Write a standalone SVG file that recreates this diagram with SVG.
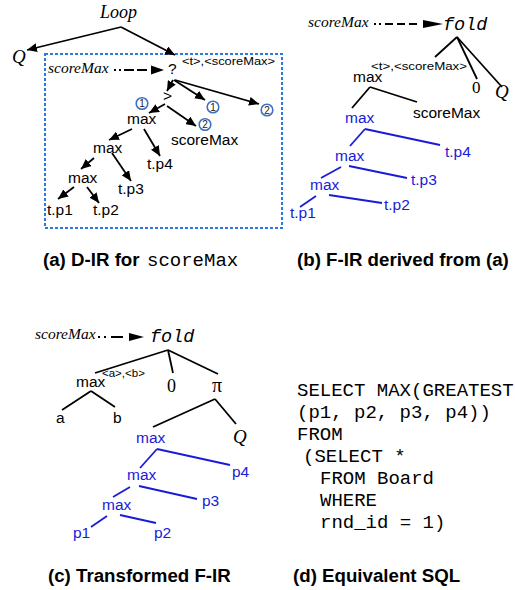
<svg xmlns="http://www.w3.org/2000/svg" width="515" height="590" viewBox="0 0 515 590">
  <style>
    .sans { font-family: "Liberation Sans", Arial, sans-serif; font-size: 15.5px; fill: #000; }
    .blue { fill: #1a1ad8; }
    .it { font-family: "Liberation Serif", "Times New Roman", serif; font-style: italic; fill: #000; }
    .serif { font-family: "Liberation Serif", "Times New Roman", serif; fill: #000; }
    .mono { font-family: "Liberation Mono", "Courier New", monospace; fill: #000; }
    .fold { font-family: "Liberation Mono", "Courier New", monospace; font-style: italic; font-size: 18.5px; fill: #000; }
    .sup { font-family: "Liberation Sans", Arial, sans-serif; font-size: 11.5px; fill: #000; }
    .cap { font-family: "Liberation Sans", Arial, sans-serif; font-weight: bold; font-size: 18.7px; fill: #000; }
    .sql { font-family: "Liberation Mono", "Courier New", monospace; font-size: 19px; fill: #000; }
    .arr { stroke: #000; stroke-width: 1.8; fill: none; marker-end: url(#head); }
    .edge { stroke: #000; stroke-width: 1.8; fill: none; }
    .bedge { stroke: #1a1ad8; stroke-width: 1.8; fill: none; }
    .dot { stroke: #000; stroke-width: 1.8; fill: none; }
    .num { fill: #fff; stroke: #3d6fc2; stroke-width: 1.6; }
    .numt { font-family: "Liberation Sans", Arial, sans-serif; font-size: 10px; fill: #222; text-anchor: middle; }
  </style>
  <defs>
    <marker id="head" markerUnits="userSpaceOnUse" markerWidth="11" markerHeight="9" refX="10" refY="4.5" orient="auto">
      <path d="M0,0 L10,4.5 L0,9 z" fill="#000"/>
    </marker>
  </defs>

  <!-- ===== (a) D-IR ===== -->
  <g id="a-loop"><text class="it" x="100" y="18" font-size="18">Loop</text></g>
  <g id="a-q"><text class="it" x="12" y="63" font-size="19">Q</text></g>
  <rect id="a-box" x="45" y="54" width="237" height="174" fill="none" stroke="#2a78e0" stroke-width="2" stroke-dasharray="3 2"/>
  <g id="a-scoremax-var"><text class="it" x="48" y="73" font-size="15.5">scoreMax</text></g>
  <g id="a-cond">
    <text class="sans" x="168" y="74" font-size="16.5">?</text>
    <text class="sup" x="182" y="65" textLength="93" lengthAdjust="spacingAndGlyphs">&lt;t&gt;,&lt;scoreMax&gt;</text>
  </g>
  <g id="a-gt"><text class="sans" x="163" y="101">&gt;</text></g>
  <g id="a-max1"><text class="sans" x="127" y="124">max</text></g>
  <g id="a-scoremax"><text class="sans" x="171" y="145">scoreMax</text></g>
  <g id="a-max2"><text class="sans" x="93" y="153">max</text></g>
  <g id="a-tp4"><text class="sans" x="147" y="169">t.p4</text></g>
  <g id="a-max3"><text class="sans" x="68" y="183">max</text></g>
  <g id="a-tp3"><text class="sans" x="118" y="194">t.p3</text></g>
  <g id="a-tp1"><text class="sans" x="47" y="215">t.p1</text></g>
  <g id="a-tp2"><text class="sans" x="93" y="215">t.p2</text></g>
  <g id="a-labels">
    <circle class="num" cx="142" cy="103.5" r="5.8"/><text class="numt" x="142" y="107">1</text>
    <circle class="num" cx="213" cy="107" r="5.8"/><text class="numt" x="213" y="110.5">1</text>
    <circle class="num" cx="267" cy="110" r="5.8"/><text class="numt" x="267" y="113.5">2</text>
    <circle class="num" cx="205" cy="124.5" r="5.8"/><text class="numt" x="205" y="128">2</text>
  </g>
  <g id="a-connectors">
    <line class="arr" x1="121" y1="27" x2="27" y2="50"/>
    <line class="arr" x1="121" y1="27" x2="175" y2="55"/>
    <line class="dot" x1="114" y1="70" x2="152" y2="70" stroke-dasharray="2 3 2 3 10 3 10 40"/>
    <path d="M151,65.5 L164,70 L151,74.5 z" fill="#000"/>
    <line class="arr" x1="173" y1="80" x2="167" y2="91"/>
    <line class="arr" x1="174" y1="80" x2="205" y2="100"/>
    <line class="arr" x1="175" y1="80" x2="259" y2="104"/>
    <line class="arr" x1="165" y1="104" x2="149" y2="113"/>
    <line class="arr" x1="167" y1="106" x2="196" y2="126"/>
    <line class="arr" x1="132" y1="129" x2="109" y2="140"/>
    <line class="arr" x1="144" y1="129" x2="160" y2="156"/>
    <line class="arr" x1="94" y1="158" x2="81" y2="169"/>
    <line class="arr" x1="112" y1="153" x2="131" y2="181"/>
    <line class="arr" x1="74" y1="187" x2="58" y2="199"/>
    <line class="arr" x1="87" y1="187" x2="99" y2="203"/>
  </g>
  <text class="cap" x="43" y="266">(a) D-IR for</text>
  <text class="mono" x="147" y="266" font-size="19">scoreMax</text>

  <!-- ===== (b) F-IR ===== -->
  <g id="b-scoremax-var"><text class="it" x="308" y="27" font-size="15.5">scoreMax</text></g>
  <g id="b-fold"><text class="fold" x="443" y="30">fold</text></g>
  <g id="b-max"><text class="sans" x="353" y="82">max</text>
    <text class="sup" x="371" y="70" textLength="96" lengthAdjust="spacingAndGlyphs">&lt;t&gt;,&lt;scoreMax&gt;</text></g>
  <g id="b-zero"><text class="serif" x="472" y="93" font-size="17">0</text></g>
  <g id="b-q"><text class="it" x="495" y="98" font-size="19">Q</text></g>
  <g id="b-scoremax"><text class="sans" x="413" y="118">scoreMax</text></g>
  <g id="b-max1"><text class="sans blue" x="345" y="123">max</text></g>
  <g id="b-tp4"><text class="sans blue" x="445" y="157">t.p4</text></g>
  <g id="b-max2"><text class="sans blue" x="335" y="161">max</text></g>
  <g id="b-tp3"><text class="sans blue" x="411" y="185">t.p3</text></g>
  <g id="b-max3"><text class="sans blue" x="310" y="190">max</text></g>
  <g id="b-tp1"><text class="sans blue" x="290" y="218">t.p1</text></g>
  <g id="b-tp2"><text class="sans blue" x="384" y="210">t.p2</text></g>
  <g id="b-connectors">
    <line class="dot" x1="374" y1="24" x2="424" y2="24" stroke-dasharray="2 3 2 4 8 4 8 4 8 40"/>
    <path d="M423,20 L443,24 L423,28 z" fill="#000"/>
    <line class="edge" x1="457" y1="37" x2="435" y2="57"/>
    <line class="edge" x1="457" y1="37" x2="477" y2="79"/>
    <line class="edge" x1="457" y1="37" x2="502" y2="87"/>
    <line class="edge" x1="370" y1="87" x2="352" y2="108"/>
    <line class="edge" x1="370" y1="87" x2="417" y2="102"/>
    <line class="bedge" x1="365" y1="129" x2="350" y2="146"/>
    <line class="bedge" x1="365" y1="129" x2="440" y2="145"/>
    <line class="bedge" x1="341" y1="167" x2="321" y2="178"/>
    <line class="bedge" x1="349" y1="166" x2="407" y2="178"/>
    <line class="bedge" x1="316" y1="196" x2="300" y2="207"/>
    <line class="bedge" x1="329" y1="195" x2="382" y2="203"/>
  </g>
  <text class="cap" x="297" y="266">(b) F-IR derived from (a)</text>

  <!-- ===== (c) Transformed F-IR ===== -->
  <g id="c-scoremax-var"><text class="it" x="35" y="339" font-size="15.5">scoreMax</text></g>
  <g id="c-fold"><text class="fold" x="150" y="342">fold</text></g>
  <g id="c-max"><text class="sans" x="76" y="387">max</text>
    <text class="sup" x="102" y="377">&lt;a&gt;,&lt;b&gt;</text></g>
  <g id="c-zero"><text class="serif" x="167" y="392" font-size="18">0</text></g>
  <g id="c-pi"><text class="serif" x="212" y="392" font-size="20">π</text></g>
  <g id="c-a"><text class="sans" x="56" y="423">a</text></g>
  <g id="c-b"><text class="sans" x="113" y="423">b</text></g>
  <g id="c-max1"><text class="sans blue" x="136" y="443">max</text></g>
  <g id="c-q"><text class="it" x="233" y="443" font-size="19">Q</text></g>
  <g id="c-p4"><text class="sans blue" x="232" y="477">p4</text></g>
  <g id="c-max2"><text class="sans blue" x="127" y="480">max</text></g>
  <g id="c-p3"><text class="sans blue" x="202" y="506">p3</text></g>
  <g id="c-max3"><text class="sans blue" x="102" y="510">max</text></g>
  <g id="c-p1"><text class="sans blue" x="73" y="538">p1</text></g>
  <g id="c-p2"><text class="sans blue" x="154" y="538">p2</text></g>
  <g id="c-connectors">
    <line class="dot" x1="98" y1="337" x2="131" y2="337" stroke-dasharray="2 4 2 5 12 40"/>
    <path d="M129,333 L144,337 L129,341 z" fill="#000"/>
    <line class="edge" x1="168" y1="350" x2="95" y2="373"/>
    <line class="edge" x1="168" y1="350" x2="173" y2="373"/>
    <line class="edge" x1="168" y1="350" x2="218" y2="374"/>
    <line class="edge" x1="91" y1="391" x2="62" y2="410"/>
    <line class="edge" x1="91" y1="391" x2="115" y2="407"/>
    <line class="edge" x1="215" y1="399" x2="153" y2="427"/>
    <line class="edge" x1="215" y1="399" x2="236" y2="424"/>
    <line class="bedge" x1="157" y1="449" x2="140" y2="468"/>
    <line class="bedge" x1="157" y1="449" x2="230" y2="465"/>
    <line class="bedge" x1="130" y1="487" x2="113" y2="497"/>
    <line class="bedge" x1="139" y1="486" x2="197" y2="499"/>
    <line class="bedge" x1="107" y1="516" x2="91" y2="527"/>
    <line class="bedge" x1="120" y1="515" x2="156" y2="523"/>
  </g>
  <text class="cap" x="48" y="582">(c) Transformed F-IR</text>

  <!-- ===== (d) Equivalent SQL ===== -->
  <g id="d-sql">
    <text class="sql" x="297" y="396">SELECT MAX(GREATEST</text>
    <text class="sql" x="297" y="418">(p1, p2, p3, p4))</text>
    <text class="sql" x="297" y="440">FROM</text>
    <text class="sql" x="303" y="462">(SELECT *</text>
    <text class="sql" x="320" y="484">FROM Board</text>
    <text class="sql" x="320" y="506">WHERE</text>
    <text class="sql" x="320" y="528">rnd_id = 1)</text>
  </g>
  <text class="cap" x="293" y="582">(d) Equivalent SQL</text>
</svg>
